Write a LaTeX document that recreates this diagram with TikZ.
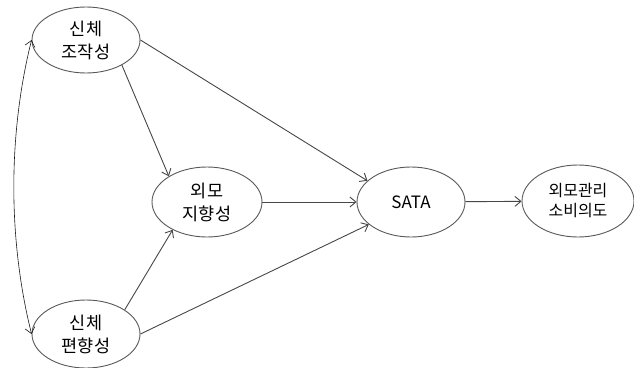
\documentclass[tikz,border=0pt]{standalone}
\usepackage{fontspec}
\setmainfont{Noto Sans CJK KR}
\usetikzlibrary{arrows.meta,shapes.geometric}
\begin{document}
\begin{tikzpicture}[x=1pt,y=-1pt,
  latent/.style={draw=black!65, line width=0.9pt, ellipse, minimum width=#1, fill=white, align=center, inner sep=0pt, font=\fontsize{17.5}{23}\selectfont},
  latent/.default={108pt},
  path/.style={draw=black!72, line width=0.9pt, -{Straight Barb[length=6pt,width=10pt]}},
  ]
\useasboundingbox (0,0) rectangle (634,367);
\node[latent, minimum height=66pt] (jo) at (86,40) {신체\\조작성};
\node[latent, minimum height=68pt] (pyeon) at (86,334) {신체\\편향성};
\node[latent=110pt, minimum height=70pt] (ji) at (207,202) {외모\\지향성};
\node[latent, minimum height=70pt, font=\fontsize{17}{20}\selectfont] (sata) at (411,202) {SATA};
\node[latent=112pt, minimum height=72pt, font=\fontsize{16}{20}\selectfont] (gw) at (578,201) {외모관리\\소비의도};
\draw[path] (jo.-35) -- (ji.146);
\draw[path] (jo.east) -- (sata.154);
\draw[path] (pyeon.32) -- (ji.219);
\draw[path] (pyeon.east) -- (sata.208);
\draw[path] (ji) -- (sata);
\draw[path] (sata) -- (gw);
\draw[draw=black!90, line width=0.6pt, {Straight Barb[length=6pt,width=10pt]}-{Straight Barb[length=6pt,width=10pt]}] (jo.west) to[out=256, in=104, looseness=0.85] (pyeon.west);
\end{tikzpicture}
\end{document}
